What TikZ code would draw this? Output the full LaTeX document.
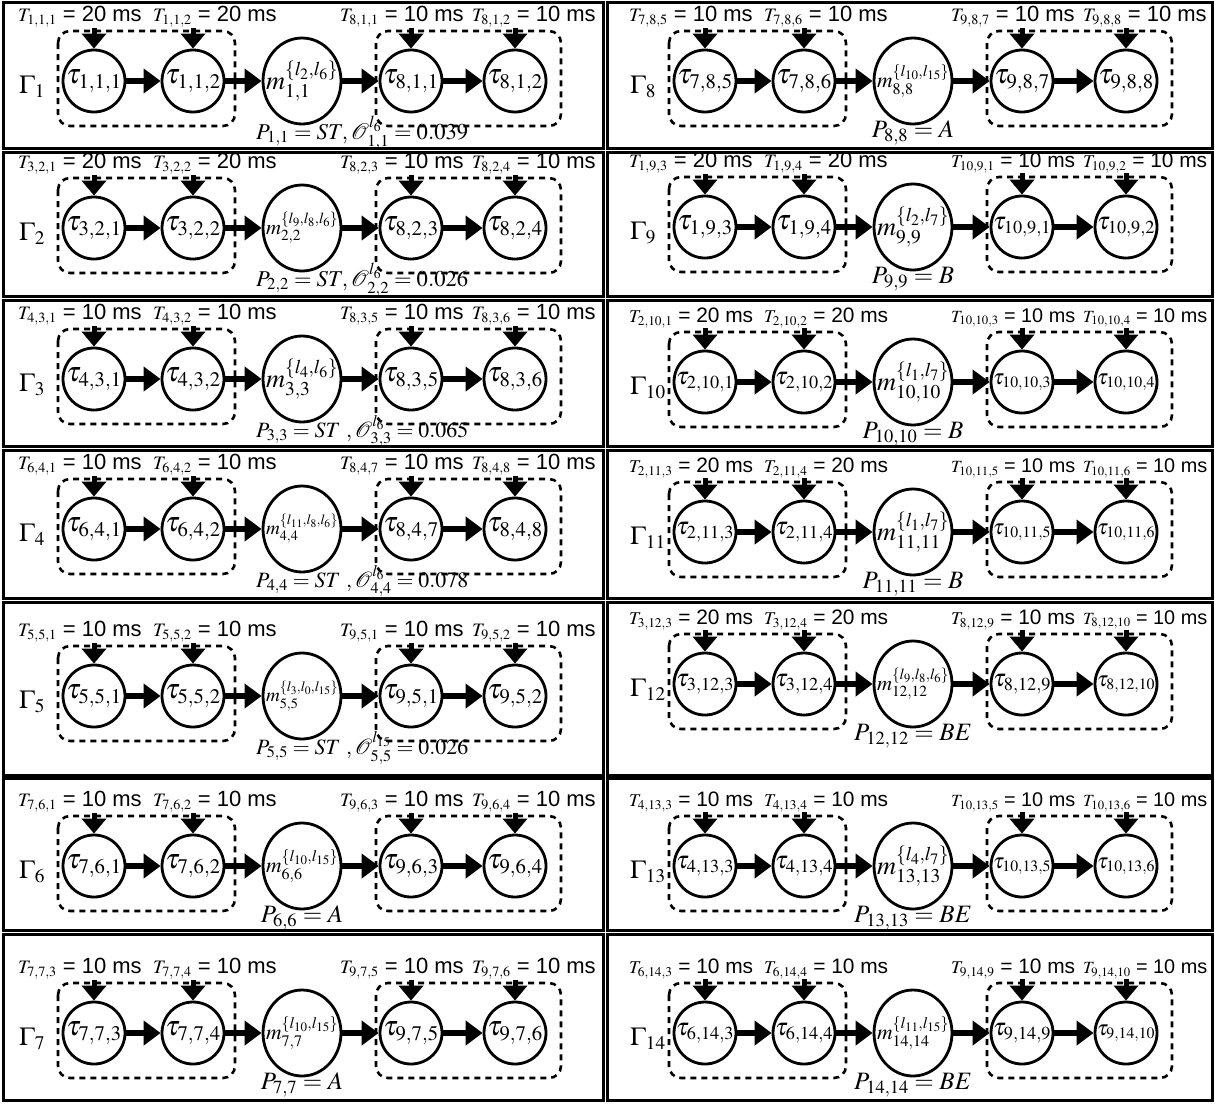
\documentclass[tikz,border=0pt]{standalone}
\usepackage{mathptmx}
\usepackage{fontspec}
\setmainfont{Liberation Serif}
\setsansfont{Liberation Sans}
\usepackage{graphicx}
\usetikzlibrary{arrows.meta,shapes.geometric}

\newsavebox\fitsbox
\newcommand\fitbox[2]{\sbox\fitsbox{#2}\ifdim\wd\fitsbox>#1\relax\resizebox{#1}{!}{\usebox\fitsbox}\else\usebox\fitsbox\fi}
\newcommand\Tlab[2]{\fitbox{124pt}{{\rmfamily\fontsize{19}{22}\selectfont$T_{#1}$} = #2 ms}}

\tikzset{
  task/.style={circle, draw, line width=2.8pt, minimum size=62pt, inner sep=0pt},
  msg/.style={ellipse, draw, line width=2.8pt, minimum width=78pt, minimum height=86pt, inner sep=0pt},
  tl/.style={inner sep=0pt, font=\fontsize{28}{32}\selectfont},
  grp/.style={draw, line width=2.6pt, rounded corners=12pt, dash pattern=on 6pt off 5pt},
  flow/.style={line width=6pt, -{Triangle[length=17pt,width=24pt]}},
  rel/.style={line width=5pt, -{Triangle[length=15pt,width=24pt]}},
  frame/.style={line width=3pt},
  per/.style={anchor=west, inner sep=0pt, font=\sffamily\fontsize{22}{24}\selectfont},
  gam/.style={anchor=west, inner sep=0pt, font=\fontsize{26}{30}\selectfont},
  plab/.style={inner sep=0pt, font=\fontsize{25}{28}\selectfont},
}

\pgfkeys{/pan/.is family}
\pgfkeys{/pan,
  id/.store in=\pId, x/.store in=\pX, y/.store in=\pYy, t/.store in=\pT,
  g/.store in=\pG, a/.store in=\pA, b/.store in=\pB, d/.store in=\pD, e/.store in=\pE,
  v/.store in=\pV, ms/.store in=\pMs, mb/.store in=\pMb,
  P/.store in=\pPl, pa/.store in=\pPa, px/.store in=\pPx}

% t = centre line of the period labels; everything else follows from it
\newcommand\panel[1]{%
  \pgfkeys{/pan, pa=center, px=302, #1}%
  \begin{scope}[shift={(\pX,\pYy)}]
    \node[gam] (g\pId) at (19,\pT+70) {$\Gamma_{\pG}$};
    \node[task, label={[tl]center:\fitbox{58pt}{$\tau_{\pA}$}}] (a\pId) at (94,\pT+64) {};
    \node[task, label={[tl]center:\fitbox{58pt}{$\tau_{\pB}$}}] (b\pId) at (193,\pT+64) {};
    \node[msg, label={[tl]center:\fitbox{72pt}{$m^{\{\pMs\}}_{\pMb}$}}] (m\pId) at (302,\pT+64) {};
    \node[task, label={[tl]center:\fitbox{58pt}{$\tau_{\pD}$}}] (d\pId) at (411,\pT+64) {};
    \node[task, label={[tl]center:\fitbox{58pt}{$\tau_{\pE}$}}] (e\pId) at (515,\pT+64) {};
    \draw[flow] (a\pId) -- (b\pId);
    \draw[flow] (b\pId) -- (m\pId);
    \draw[flow] (m\pId) -- (d\pId);
    \draw[flow] (d\pId) -- (e\pId);
    \draw[grp] (58,\pT+14) rectangle (235,\pT+109);
    \draw[grp] (376,\pT+14) rectangle (561,\pT+109);
    \node[per] (ta\pId) at (18,\pT) {\Tlab{\pA}{\pV}};
    \node[per] (tb\pId) at (153,\pT) {\Tlab{\pB}{\pV}};
    \node[per] (td\pId) at (340,\pT) {\Tlab{\pD}{10}};
    \node[per] (te\pId) at (472,\pT) {\Tlab{\pE}{10}};
    \draw[rel] (a\pId.north |- ta\pId.south) -- (a\pId.north);
    \draw[rel] (b\pId.north |- tb\pId.south) -- (b\pId.north);
    \draw[rel] (d\pId.north |- td\pId.south) -- (d\pId.north);
    \draw[rel] (e\pId.north |- te\pId.south) -- (e\pId.north);
    \node[plab, anchor=\pPa] (p\pId) at (\pPx,\pT+116) {\fitbox{212pt}{$\pPl$}};
  \end{scope}}

\begin{document}
\begin{tikzpicture}[x=1pt, y=-1pt]
\fill[white] (0,0) rectangle (1215,1103);
\useasboundingbox (0,0) rectangle (1215,1103);
\foreach \ya/\yb in {2/148,152/296,300/446,450/598,602/775,778/930,934/1100}{
  \draw[frame] (3,\ya) rectangle (603,\yb);
  \draw[frame] (607,\ya) rectangle (1212,\yb);
}
% left column
\panel{id=1, x=0, y=2, t=15, g=1, a={1,1,1}, b={1,1,2}, d={8,1,1}, e={8,1,2}, v=20,
  ms={l_2,l_6}, mb={1,1}, P={P_{1,1} = ST, \mathcal{O}^{l_6}_{1,1} = 0.039}, pa=west, px=256}
\panel{id=2, x=0, y=152, t=12, g=2, a={3,2,1}, b={3,2,2}, d={8,2,3}, e={8,2,4}, v=20,
  ms={l_9,l_8,l_6}, mb={2,2}, P={P_{2,2} = ST, \mathcal{O}^{l_6}_{2,2} = 0.026}, pa=west, px=256}
\panel{id=3, x=0, y=300, t=15, g=3, a={4,3,1}, b={4,3,2}, d={8,3,5}, e={8,3,6}, v=10,
  ms={l_4,l_6}, mb={3,3}, P={P_{3,3} = ST\ ,\mathcal{O}^{l_6}_{3,3} = 0.065}, pa=west, px=256}
\panel{id=4, x=0, y=450, t=15, g=4, a={6,4,1}, b={6,4,2}, d={8,4,7}, e={8,4,8}, v=10,
  ms={l_{11},l_8,l_6}, mb={4,4}, P={P_{4,4} = ST\ ,\mathcal{O}^{l_6}_{4,4} = 0.078}, pa=west, px=256}
\panel{id=5, x=0, y=602, t=30, g=5, a={5,5,1}, b={5,5,2}, d={9,5,1}, e={9,5,2}, v=10,
  ms={l_3,l_0,l_{15}}, mb={5,5}, P={P_{5,5} = ST\ ,\mathcal{O}^{l_{15}}_{5,5} = 0.026}, pa=west, px=256}
\panel{id=6, x=0, y=778, t=24, g=6, a={7,6,1}, b={7,6,2}, d={9,6,3}, e={9,6,4}, v=10,
  ms={l_{10},l_{15}}, mb={6,6}, P={P_{6,6} = A}}
\panel{id=7, x=0, y=934, t=35, g=7, a={7,7,3}, b={7,7,4}, d={9,7,5}, e={9,7,6}, v=10,
  ms={l_{10},l_{15}}, mb={7,7}, P={P_{7,7} = A}}
% right column
\panel{id=8, x=611, y=2, t=15, g=8, a={7,8,5}, b={7,8,6}, d={9,8,7}, e={9,8,8}, v=10,
  ms={l_{10},l_{15}}, mb={8,8}, P={P_{8,8} = A}}
\panel{id=9, x=611, y=152, t=11, g=9, a={1,9,3}, b={1,9,4}, d={10,9,1}, e={10,9,2}, v=20,
  ms={l_2,l_7}, mb={9,9}, P={P_{9,9} = B}}
\panel{id=10, x=611, y=300, t=18, g={10}, a={2,10,1}, b={2,10,2}, d={10,10,3}, e={10,10,4}, v=20,
  ms={l_1,l_7}, mb={10,10}, P={P_{10,10} = B}}
\panel{id=11, x=611, y=450, t=18, g={11}, a={2,11,3}, b={2,11,4}, d={10,11,5}, e={10,11,6}, v=20,
  ms={l_1,l_7}, mb={11,11}, P={P_{11,11} = B}}
\panel{id=12, x=611, y=602, t=18, g={12}, a={3,12,3}, b={3,12,4}, d={8,12,9}, e={8,12,10}, v=20,
  ms={l_9,l_8,l_6}, mb={12,12}, P={P_{12,12} = BE}}
\panel{id=13, x=611, y=778, t=24, g={13}, a={4,13,3}, b={4,13,4}, d={10,13,5}, e={10,13,6}, v=10,
  ms={l_4,l_7}, mb={13,13}, P={P_{13,13} = BE}}
\panel{id=14, x=611, y=934, t=35, g={14}, a={6,14,3}, b={6,14,4}, d={9,14,9}, e={9,14,10}, v=10,
  ms={l_{11},l_{15}}, mb={14,14}, P={P_{14,14} = BE}}
\end{tikzpicture}
\end{document}
